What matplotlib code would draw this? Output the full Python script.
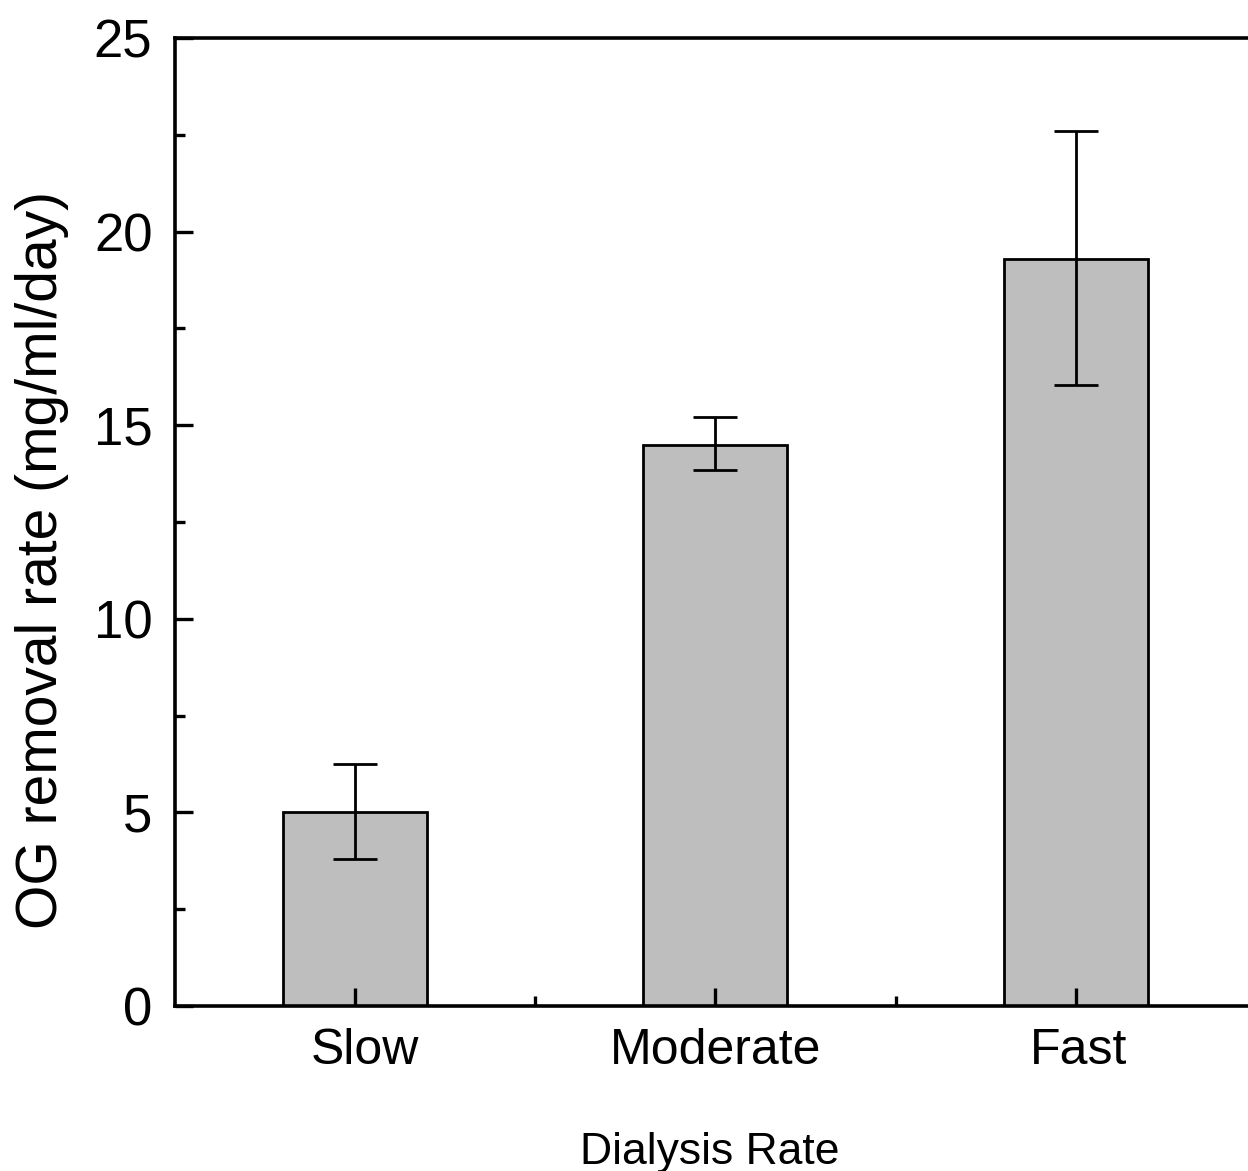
import matplotlib
matplotlib.use("Agg")
import matplotlib.pyplot as plt
import matplotlib.transforms as mtransforms
from matplotlib.ticker import MultipleLocator, FixedLocator

plt.rcParams['font.family'] = ['Liberation Sans', 'DejaVu Sans']

categories = ['Slow', 'Moderate', 'Fast']
rates = [5.0, 14.5, 19.3]
err_up = [1.25, 0.7, 3.3]
err_down = [1.2, 0.65, 3.25]

fig = plt.figure(figsize=(12.48, 11.71), dpi=100)
ax = fig.add_axes([0.140, 0.141, 0.8664, 0.8265])

x = [1, 2, 3]
ax.bar(x, rates, width=0.4, color='#bebebe', edgecolor='black', linewidth=2.0)
ax.errorbar(x, rates, yerr=[err_down, err_up], fmt='none', ecolor='black',
            elinewidth=2.0, capsize=15.5, capthick=2.0)

ax.set_xlim(0.5, 3.5)
ax.set_ylim(0, 25)
ax.set_xticks(x)
ax.set_xticklabels(categories, fontsize=36)
ax.xaxis.set_minor_locator(FixedLocator([1.5, 2.5]))
ax.yaxis.set_major_locator(MultipleLocator(5))
ax.yaxis.set_minor_locator(MultipleLocator(2.5))

for s in ax.spines.values():
    s.set_linewidth(2.6)
ax.tick_params(which='both', direction='in', width=2.4, top=False, right=False)
ax.tick_params(axis='y', labelsize=38, pad=16)
ax.tick_params(which='major', length=13)
ax.tick_params(axis='x', which='major', pad=16)
ax.tick_params(which='minor', length=7)

# the labels in the original sit a little right of their ticks
shifts = [10, 0, 3]
for lab, dx in zip(ax.get_xticklabels(), shifts):
    lab.set_transform(lab.get_transform() +
                      mtransforms.ScaledTranslation(dx / 100, 0, fig.dpi_scale_trans))

ax.set_xlabel('Dialysis Rate', fontsize=32, labelpad=42)
ax.xaxis.label.set_x(0.495)
ax.set_ylabel('OG removal rate (mg/ml/day)', fontsize=41, labelpad=18)
ax.yaxis.label.set_y(0.461)

fig.savefig('out.png', dpi=100)
